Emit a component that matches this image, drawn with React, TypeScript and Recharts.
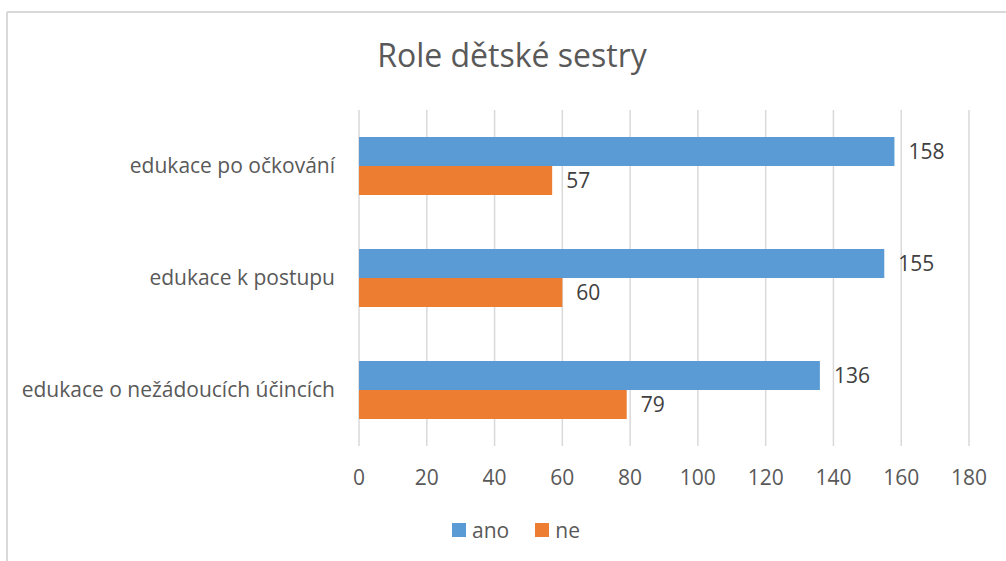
import React from "react";
import { BarChart, Bar, XAxis, YAxis, CartesianGrid, Legend, LabelList } from "recharts";

const categories = ["edukace po očkování", "edukace k postupu", "edukace o nežádoucích účincích"];
const anoValues = [158, 155, 136];
const neValues = [57, 60, 79];
const xTicks = [0, 20, 40, 60, 80, 100, 120, 140, 160, 180];
const seriesNames = ["ano", "ne"];
const colors = ["#5B9BD5", "#ED7D31"];

const data = categories.map((name, i) => ({ name, ano: anoValues[i], ne: neValues[i] }));

const FONT = "'Open Sans', 'Noto Sans', sans-serif";

const LegendContent = () => (
  <div style={{ display: "flex", justifyContent: "center", alignItems: "center", fontFamily: FONT, fontSize: 21, color: "#595959" }}>
    {seriesNames.map((n, i) => (
      <div key={n} style={{ display: "flex", alignItems: "center", marginRight: i === 0 ? 26 : 0 }}>
        <span style={{ display: "inline-block", width: 14, height: 14, background: colors[i], marginRight: 6 }} />
        <span>{n}</span>
      </div>
    ))}
  </div>
);

export default function App() {
  return (
    <div style={{ position: "absolute", left: 0, top: 0, width: 1006, height: 561, background: "#fff" }}>
      <svg width={1006} height={561} style={{ position: "absolute", left: 0, top: 0 }}>
        <line x1={7} y1={12} x2={1006} y2={12} stroke="#d9d9d9" strokeWidth={2} />
        <line x1={7} y1={12} x2={7} y2={561} stroke="#d9d9d9" strokeWidth={2} />
        <text x={512} y={67} textAnchor="middle" fontFamily={FONT} fontSize={32} fill="#595959">
          Role dětské sestry
        </text>
      </svg>
      <div style={{ position: "absolute", left: 0, top: 0 }}>
        <BarChart
          width={1006}
          height={561}
          data={data}
          layout="vertical"
          margin={{ top: 110, right: 37, bottom: 85, left: 0 }}
          barGap={0}
          barSize={29}
        >
          <CartesianGrid horizontal={false} stroke="#d9d9d9" strokeWidth={1.5} />
          <XAxis
            type="number"
            domain={[0, 180]}
            ticks={xTicks}
            axisLine={false}
            tickLine={false}
            tickSize={0}
            tickMargin={24}
            height={30}
            tick={{ fill: "#595959", fontSize: 21, fontFamily: FONT }}
          />
          <YAxis
            type="category"
            dataKey="name"
            width={359}
            axisLine={false}
            tickLine={false}
            tickSize={0}
            tickMargin={24}
            tick={{ fill: "#595959", fontSize: 21, fontFamily: FONT }}
          />
          <Legend
            layout="horizontal"
            verticalAlign="middle"
            content={<LegendContent />}
            wrapperStyle={{ top: 516, left: 26, width: 980 }}
          />
          <Bar dataKey="ano" name="ano" fill={colors[0]} isAnimationActive={false}>
            <LabelList dataKey="ano" position="right" offset={14} fill="#404040" fontSize={21} fontFamily={FONT} />
          </Bar>
          <Bar dataKey="ne" name="ne" fill={colors[1]} isAnimationActive={false}>
            <LabelList dataKey="ne" position="right" offset={14} fill="#404040" fontSize={21} fontFamily={FONT} />
          </Bar>
        </BarChart>
      </div>
    </div>
  );
}
